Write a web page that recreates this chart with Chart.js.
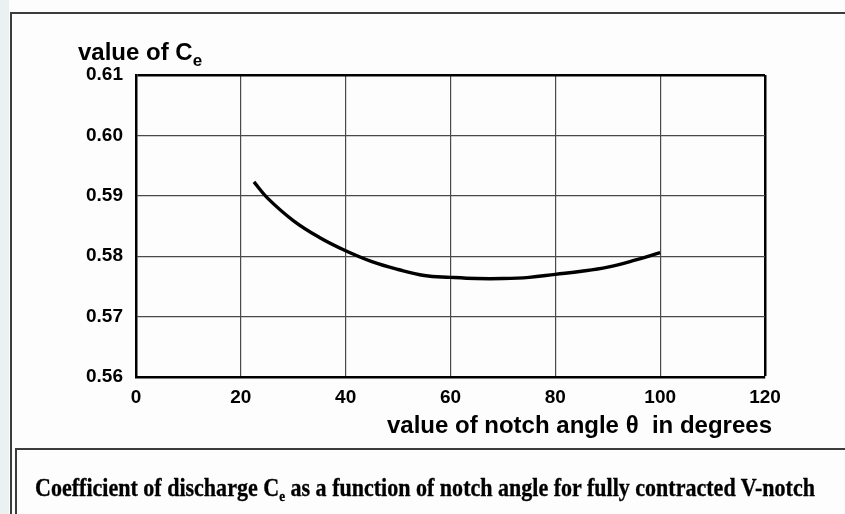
<!DOCTYPE html>
<html>
<head>
<meta charset="utf-8">
<script src="https://cdn.jsdelivr.net/npm/chart.js@4"></script>
<style>
  html, body { margin:0; padding:0; background:#fcfdfc; }
  #wrap { position:relative; width:845px; height:514px; overflow:hidden; background:#fcfdfc; }
  #strip { position:absolute; left:0; top:0; width:9px; height:514px; background:#e9f1f1; }
  #outer { position:absolute; left:10px; top:12px; width:900px; height:600px; border-top:2px solid #3c3c3c; border-left:2px solid #3c3c3c; background:#fcfdfc; }
  #capbox { position:absolute; left:15px; top:448px; width:900px; height:200px; border-top:2px solid #3c3c3c; border-left:2px solid #3c3c3c; }
  #ytitle { position:absolute; left:78px; top:40px; font:bold 24px 'Liberation Sans', Arial, sans-serif; line-height:24px; color:#000; white-space:nowrap; }
  #ytitle sub { font-size:17px; vertical-align:-6px; line-height:0; }
  #xtitle { position:absolute; right:73px; top:413px; font:bold 24px 'Liberation Sans', Arial, sans-serif; line-height:24px; color:#000; white-space:pre; text-align:right; }
  #caption { position:absolute; left:35px; top:475px; font:bold 25px 'Liberation Serif', 'Times New Roman', serif; line-height:25px; color:#000; white-space:nowrap; transform-origin:0 0; -webkit-text-stroke:0.35px #000; }
  #caption sub { font-size:15px; vertical-align:-5px; line-height:0; }
  canvas { position:absolute; left:0; top:0; }
</style>
</head>
<body>
<div id="wrap">
  <div id="strip"></div>
  <div id="outer"></div>
  <div id="capbox"></div>
  <canvas id="c" width="845" height="514"></canvas>
  <div id="ytitle">value of C<sub>e</sub></div>
  <div id="xtitle"></div>
  <div id="caption">Coefficient of discharge C<sub>e</sub> as a function of notch angle for fully contracted V-notch</div>
</div>
<script>
// ---- data ----
const notchAngles = [22.5, 25, 30, 35, 40, 45, 50, 55, 60, 65, 70, 75, 80, 85, 90, 95, 100];
const ceValues    = [0.5923, 0.5897, 0.5859, 0.5831, 0.5809, 0.5791, 0.5778, 0.5768, 0.5765, 0.5763, 0.5763, 0.5765, 0.5770, 0.5775, 0.5782, 0.5793, 0.5806];
const xTickLabels = ['0', '20', '40', '60', '80', '100', '120'];
const yTickLabels = ['0.56', '0.57', '0.58', '0.59', '0.60', '0.61'];
const xAxisTitle  = 'value of notch angle \u03B8  in degrees';

document.getElementById('xtitle').textContent = xAxisTitle;

const xMin = Number(xTickLabels[0]), xMax = Number(xTickLabels[xTickLabels.length - 1]);
const yMin = Number(yTickLabels[0]), yMax = Number(yTickLabels[yTickLabels.length - 1]);

Chart.defaults.font.family = "'Liberation Sans', Arial, sans-serif";

const gridColor = (isMax) => (ctx) => (ctx.tick && isMax(ctx.tick.value)) ? '#000' : '#4a4a4a';
const gridWidth = (isMax) => (ctx) => (ctx.tick && isMax(ctx.tick.value)) ? 2.5 : 1.2;

new Chart(document.getElementById('c'), {
  type: 'line',
  data: {
    datasets: [{
      data: notchAngles.map((x, i) => ({ x: x, y: ceValues[i] })),
      borderColor: '#000',
      borderWidth: 3.4,
      pointRadius: 0,
      tension: 0.4,
      fill: false
    }]
  },
  options: {
    responsive: false,
    animation: false,
    layout: { padding: { left: 0, top: 75, right: 80, bottom: 0 } },
    plugins: { legend: { display: false }, tooltip: { enabled: false } },
    scales: {
      x: {
        type: 'linear', min: xMin, max: xMax,
        afterFit: (s) => { s.height = 137; },
        ticks: {
          stepSize: 20, padding: 9, color: '#000', maxRotation: 0,
          font: { size: 19, weight: 'bold' },
          callback: (v) => { const i = xTickLabels.indexOf(String(v)); return i >= 0 ? xTickLabels[i] : ''; }
        },
        grid: { drawTicks: false, color: gridColor(v => Math.abs(v - xMax) < 1e-9), lineWidth: gridWidth(v => Math.abs(v - xMax) < 1e-9) },
        border: { color: '#000', width: 2.5 }
      },
      y: {
        type: 'linear', min: yMin, max: yMax,
        afterFit: (s) => { s.width = 136; },
        ticks: {
          stepSize: 0.01, padding: 13, color: '#000',
          font: { size: 19, weight: 'bold' },
          callback: (v) => { const t = Number(v).toFixed(2); return yTickLabels.includes(t) ? t : ''; }
        },
        grid: { drawTicks: false, color: gridColor(v => Math.abs(v - yMax) < 1e-9), lineWidth: gridWidth(v => Math.abs(v - yMax) < 1e-9) },
        border: { color: '#000', width: 2.5 }
      }
    }
  }
});

// fit the condensed serif caption to the reference width
const cap = document.getElementById('caption');
const w = cap.getBoundingClientRect().width;
cap.style.transform = 'scaleX(' + (780 / w) + ')';
</script>
</body>
</html>
